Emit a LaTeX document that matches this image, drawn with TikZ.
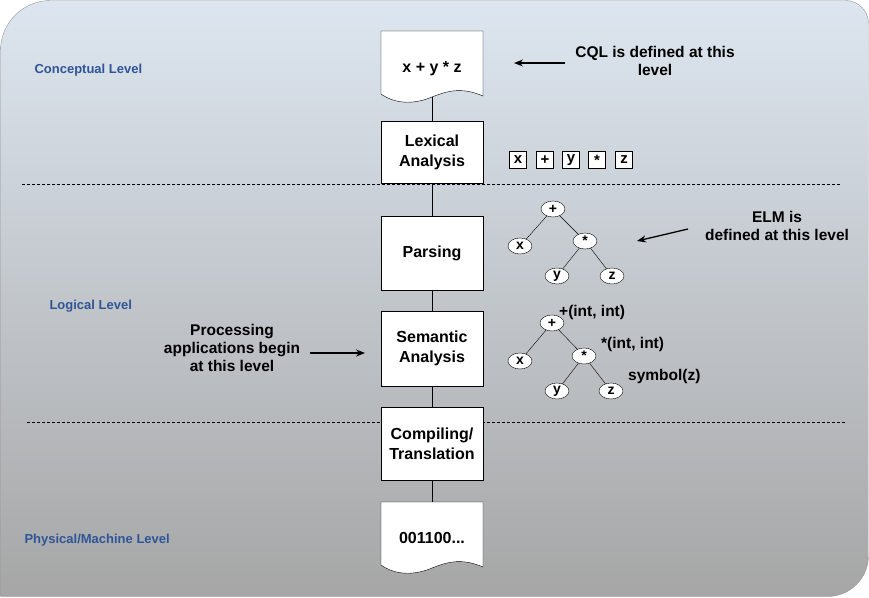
\documentclass[tikz,border=0pt]{standalone}
\usepackage{fontspec}
\setmainfont{Liberation Sans}
\usetikzlibrary{arrows.meta,shapes.geometric}
\definecolor{lvl}{HTML}{2F5597}
\tikzset{
 box/.style={draw=black,fill=white,minimum width=102pt,font=\fontsize{16}{20}\selectfont\bfseries,align=center,inner sep=0pt},
 tok/.style={draw=black,fill=white,minimum size=17pt,inner sep=0pt,font=\fontsize{15}{15}\selectfont\bfseries},
 tn/.style={draw=black,fill=white,ellipse,minimum width=24pt,minimum height=16pt,inner sep=0pt,font=\fontsize{14}{14}\selectfont\bfseries},
 lbl/.style={font=\fontsize{15.5}{18}\selectfont\bfseries,align=center},
 lvltxt/.style={text=lvl,font=\fontsize{13}{15}\selectfont\bfseries,anchor=west},
 arr/.style={-{Stealth[length=9pt,width=7pt]},line width=1.3pt},
 dl/.style={dash pattern=on 3pt off 2pt,line width=0.7pt}
}
\begin{document}
\begin{tikzpicture}[x=1pt,y=-1pt]
\useasboundingbox (0,0) rectangle (869,597);
\shade[top color={rgb,255:red,221;green,230;blue,240},bottom color={rgb,255:red,166;green,166;blue,166},draw={rgb,255:red,150;green,150;blue,150}]
 [rounded corners=50pt] (0.5,596.5) -- (0.5,0.5) [rounded corners=23pt] -- (868.5,0.5) [rounded corners=41pt] -- (868.5,596.5) [sharp corners] -- cycle;
\draw[dl] (22,184) -- (840,184);
\draw[dl] (27,422) -- (845,422);
\node[lvltxt] (l1) at (31,70) {Conceptual Level};
\node[lvltxt] (l2) at (46,306) {Logical Level};
\node[lvltxt] (l3) at (21,540) {Physical/Machine Level};
\coordinate (top) at (432,95);
\coordinate (bot) at (432,508);
\draw (top) -- (bot);
\draw[fill=white] (381,31) -- (483,31) -- (483,96) .. controls (460,86) and (445,92) .. (432,97) .. controls (418,103) and (398,106) .. (381,94) -- cycle;
\node[box,draw=none,fill=none] (d1) at (432,69) {x + y * z};
\draw[fill=white] (381,502) -- (483,502) -- (483,567) .. controls (460,557) and (445,563) .. (432,568) .. controls (418,574) and (398,577) .. (381,565) -- cycle;
\node[box,draw=none,fill=none] (d2) at (432,538) {001100...};
\node[box,minimum height=62pt] (lex) at (432,152) {Lexical\\Analysis};
\node[box,minimum height=74pt] (par) at (432,253) {Parsing};
\node[box,minimum height=75pt] (sem) at (432,348.5) {Semantic\\Analysis};
\node[box,minimum height=73pt] (cmp) at (432,443.5) {Compiling/\\Translation};
\foreach \t/\x/\n in {x/518/t1,+/545/t2,y/571/t3,*/597/t4,z/624/t5}{\node[tok] (\n) at (\x,160) {\t};}
\node[tn] (a) at (553,209) {+};
\node[tn] (b) at (520,246) {x};
\node[tn] (c) at (585,241) {*};
\node[tn] (d) at (557,276) {y};
\node[tn] (e) at (612,276) {z};
\draw (a) -- (b); \draw (a) -- (c); \draw (c) -- (d); \draw (c) -- (e);
\node[tn] (a2) at (552,323) {+};
\node[tn] (b2) at (520,361) {x};
\node[tn] (c2) at (584,356) {*};
\node[tn] (d2n) at (557,391) {y};
\node[tn] (e2) at (611,391) {z};
\draw (a2) -- (b2); \draw (a2) -- (c2); \draw (c2) -- (d2n); \draw (c2) -- (e2);
\node[lbl,anchor=west,inner sep=0pt] (p1) at (559,312) {+(int, int)};
\node[lbl,anchor=west,inner sep=0pt] (p2) at (601,344) {*(int, int)};
\node[lbl,anchor=west,inner sep=0pt] (p3) at (628,376) {symbol(z)};
\node[lbl] (cql) at (655,61) {CQL is defined at this\\level};
\coordinate (cqle) at (514,63);
\draw[arr] (565,63) -- (cqle);
\node[lbl] (elm) at (777,226) {ELM is\\defined at this level};
\draw[arr] (688,229) -- (637,241);
\node[lbl] (proc) at (232,348) {Processing\\applications begin\\at this level};
\draw[arr] (310,353) -- (365,353);
\end{tikzpicture}
\end{document}
